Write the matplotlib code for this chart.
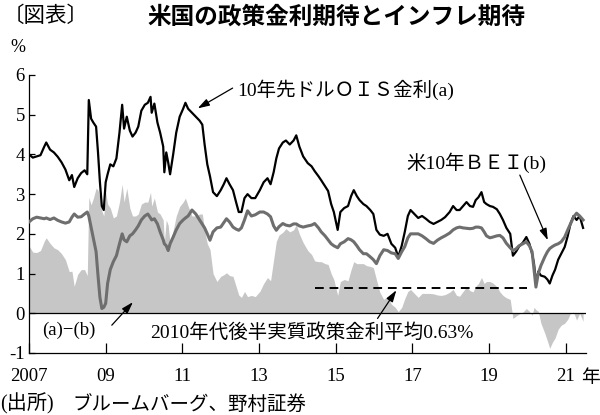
import numpy as np
import matplotlib
matplotlib.use("Agg")
import matplotlib.pyplot as plt

plt.rcParams['axes.unicode_minus'] = False

# dates (fractional year)
dates = [2007.00, 2007.10, 2007.20, 2007.30, 2007.40, 2007.45, 2007.55, 2007.65, 2007.75, 2007.85,
         2007.95, 2008.05, 2008.12, 2008.18, 2008.27, 2008.36, 2008.45, 2008.52, 2008.56, 2008.62,
         2008.68, 2008.75, 2008.80, 2008.85, 2008.90, 2008.95, 2009.00, 2009.05, 2009.12, 2009.20,
         2009.28, 2009.36, 2009.43, 2009.48, 2009.55, 2009.63, 2009.70, 2009.78, 2009.85, 2009.93,
         2010.02, 2010.10, 2010.17, 2010.20, 2010.27, 2010.35, 2010.42, 2010.50, 2010.53, 2010.58,
         2010.63, 2010.68, 2010.76, 2010.84, 2010.93, 2011.02, 2011.08, 2011.15, 2011.25, 2011.35,
         2011.45, 2011.52, 2011.58, 2011.65, 2011.72, 2011.80, 2011.90, 2012.00, 2012.08, 2012.15,
         2012.23, 2012.32, 2012.40, 2012.47, 2012.54, 2012.62, 2012.70, 2012.80, 2012.90, 2013.02,
         2013.12, 2013.22, 2013.30, 2013.38, 2013.45, 2013.52, 2013.62, 2013.70, 2013.80, 2013.90,
         2013.97, 2014.05, 2014.15, 2014.27, 2014.37, 2014.45, 2014.55, 2014.62, 2014.72, 2014.80,
         2014.88, 2014.95, 2015.05, 2015.12, 2015.22, 2015.32, 2015.40, 2015.47, 2015.55, 2015.62,
         2015.72, 2015.80, 2015.90, 2015.98, 2016.06, 2016.15, 2016.25, 2016.35, 2016.45, 2016.55,
         2016.63, 2016.72, 2016.80, 2016.88, 2016.95, 2017.05, 2017.15, 2017.25, 2017.35, 2017.45,
         2017.55, 2017.65, 2017.75, 2017.85, 2017.97, 2018.06, 2018.15, 2018.23, 2018.32, 2018.41,
         2018.50, 2018.58, 2018.65, 2018.72, 2018.80, 2018.87, 2018.93, 2019.02, 2019.10, 2019.20,
         2019.28, 2019.36, 2019.45, 2019.55, 2019.62, 2019.70, 2019.78, 2019.88, 2019.97, 2020.05,
         2020.12, 2020.17, 2020.22, 2020.28, 2020.35, 2020.45, 2020.52, 2020.58, 2020.65, 2020.72,
         2020.80, 2020.88, 2020.97, 2021.05, 2021.12, 2021.20, 2021.28, 2021.36, 2021.45]

# (a) 10年先ドルOIS金利
ois = [4.00, 3.92, 3.95, 3.98, 4.20, 4.30, 4.12, 4.05, 3.94, 3.80,
       3.62, 3.35, 3.48, 3.18, 3.40, 3.53, 3.60, 3.50, 5.37, 4.90,
       4.80, 4.70, 4.05, 3.30, 2.70, 2.60, 3.30, 3.50, 3.75, 3.70,
       3.90, 4.55, 5.25, 4.65, 4.95, 4.60, 4.45, 4.55, 4.70, 5.10,
       5.25, 5.30, 5.45, 5.05, 5.28, 4.80, 4.55, 4.20, 3.55, 4.05,
       3.80, 3.50, 4.00, 4.55, 4.95, 5.15, 5.30, 5.15, 5.05, 4.95,
       4.85, 4.75, 4.25, 3.75, 3.45, 3.05, 2.95, 3.10, 3.25, 3.40,
       3.25, 3.10, 2.80, 2.55, 2.55, 2.90, 3.00, 2.90, 2.90, 3.10,
       3.30, 3.40, 3.25, 3.55, 3.90, 4.15, 4.30, 4.35, 4.25, 4.35,
       4.48, 4.20, 3.95, 3.78, 3.70, 3.58, 3.45, 3.35, 3.20, 3.08,
       2.75, 2.55, 2.10, 2.55, 2.65, 2.70, 2.95, 3.10, 2.95, 2.85,
       2.75, 2.70, 2.60, 2.50, 2.10, 1.98, 1.95, 2.00, 1.75, 1.65,
       1.42, 1.70, 2.05, 2.45, 2.60, 2.50, 2.40, 2.45, 2.38, 2.30,
       2.25, 2.30, 2.35, 2.42, 2.55, 2.70, 2.60, 2.60, 2.70, 2.80,
       2.70, 2.68, 2.85, 2.92, 3.05, 2.80, 2.75, 2.70, 2.68, 2.62,
       2.50, 2.35, 2.15, 2.00, 1.45, 1.55, 1.68, 1.78, 1.92, 1.75,
       1.50, 1.25, 0.75, 1.05, 0.95, 0.92, 0.85, 0.75, 0.95, 1.10,
       1.35, 1.50, 1.67, 1.95, 2.25, 2.45, 2.35, 2.45, 2.15]

# (b) 米10年BEI
bei = [2.30, 2.38, 2.42, 2.40, 2.38, 2.40, 2.36, 2.40, 2.34, 2.30,
       2.27, 2.30, 2.42, 2.50, 2.42, 2.43, 2.50, 2.55, 2.45, 2.17,
       1.90, 1.55, 0.95, 0.40, 0.12, 0.15, 0.25, 0.75, 1.10, 1.30,
       1.45, 1.75, 2.00, 1.85, 1.80, 1.95, 2.00, 2.10, 2.20, 2.35,
       2.45, 2.50, 2.40, 2.35, 2.38, 2.25, 2.05, 1.85, 1.75, 1.70,
       1.58, 1.75, 1.92, 2.10, 2.26, 2.35, 2.40, 2.45, 2.60, 2.50,
       2.35, 2.25, 2.15, 2.00, 1.84, 2.05, 2.15, 2.17, 2.28, 2.38,
       2.30, 2.17, 2.12, 2.09, 2.15, 2.35, 2.58, 2.45, 2.48, 2.55,
       2.55, 2.50, 2.43, 2.20, 2.09, 2.18, 2.26, 2.22, 2.20, 2.25,
       2.25, 2.20, 2.17, 2.20, 2.22, 2.26, 2.15, 2.05, 1.95, 1.85,
       1.75, 1.70, 1.65, 1.75, 1.80, 1.88, 1.85, 1.80, 1.70, 1.60,
       1.50, 1.50, 1.42, 1.35, 1.25, 1.45, 1.60, 1.58, 1.52, 1.50,
       1.38, 1.55, 1.68, 1.90, 2.00, 2.00, 2.00, 1.95, 1.88, 1.80,
       1.76, 1.84, 1.90, 1.95, 2.02, 2.10, 2.15, 2.17, 2.15, 2.14,
       2.13, 2.14, 2.17, 2.17, 2.15, 2.05, 1.95, 1.90, 1.92, 1.95,
       1.96, 1.90, 1.76, 1.65, 1.58, 1.62, 1.70, 1.75, 1.80, 1.70,
       1.55, 1.10, 0.66, 1.00, 1.20, 1.42, 1.55, 1.63, 1.68, 1.72,
       1.75, 1.80, 1.92, 2.10, 2.25, 2.42, 2.52, 2.45, 2.35]

avg_real_rate = 0.63
avg_period = [2014.45, 2019.98]

year_ticks = [2007, 2009, 2011, 2013, 2015, 2017, 2019, 2021]
year_labels = ['2007', '09', '11', '13', '15', '17', '19', '21']
y_ticks = [-1, 0, 1, 2, 3, 4, 5, 6]

x = np.array(dates)
a = np.array(ois)
b = np.array(bei)
diff = a - b

serif = ['Liberation Serif', 'Noto Sans CJK JP']
jp = ['Noto Sans CJK JP', 'DejaVu Sans']

fig = plt.figure(figsize=(6, 4.15), dpi=100)
ax = fig.add_axes([0.0483, 0.1494, 0.928, 0.6699])

ax.fill_between(x, 0, diff, color='#c6c6c6', linewidth=0, zorder=1)
ax.axhline(0, color='black', lw=0.9, zorder=2)
ax.plot(x, a, color='black', lw=1.6, zorder=3)
ax.plot(x, b, color='#6e6e6e', lw=2.2, zorder=4)
ax.plot(avg_period, [avg_real_rate, avg_real_rate], color='black', lw=1.4,
        linestyle=(0, (4.5, 3)), zorder=5)

ax.set_xlim(2007.0, 2021.52)
ax.set_ylim(-1, 6)
ax.set_xticks(year_ticks)
ax.set_xticklabels(year_labels)
ax.set_yticks(y_ticks)
ax.set_yticklabels([str(v) for v in y_ticks])
for s in ['top', 'right']:
    ax.spines[s].set_visible(False)
for s in ['left', 'bottom']:
    ax.spines[s].set_linewidth(0.9)
ax.tick_params(axis='x', direction='in', length=7, width=0.9, pad=11)
ax.tick_params(axis='y', direction='in', length=4.5, width=0.9, pad=3)
for lab in ax.get_xticklabels() + ax.get_yticklabels():
    lab.set_family(serif)
    lab.set_fontsize(13.5)

arrow = dict(arrowstyle='-|>,head_length=0.7,head_width=0.22', color='black', lw=0.9,
             shrinkA=0, shrinkB=0)

# annotations
ax.text(2012.42, 5.62, '10年先ドルＯＩＳ金利(a)', family=serif, fontsize=14,
        ha='left', va='center')
ax.annotate('', xy=(2011.4, 5.16), xytext=(2012.31, 5.67), arrowprops=arrow)

ax.text(2016.85, 3.78, '米10年ＢＥＩ(b)', family=serif, fontsize=14,
        ha='left', va='center')
ax.annotate('', xy=(2020.53, 1.84), xytext=(2019.8, 3.48), arrowprops=arrow)

ax.text(2007.33, -0.43, '(a)−(b)', family=serif, fontsize=13.5,
        ha='left', va='center')
ax.annotate('', xy=(2009.71, 0.28), xytext=(2009.16, -0.3), arrowprops=arrow)

ax.text(2010.15, -0.5, '2010年代後半実質政策金利平均0.63%', family=serif, fontsize=14,
        ha='left', va='center')
ax.annotate('', xy=(2016.58, 0.58), xytext=(2016.09, -0.13), arrowprops=arrow)

# titles and notes
fig.text(0.005, 1 - 16 / 415, '〔図表〕', family=jp, fontsize=15.5, ha='left', va='center')
fig.text(147 / 600, 1 - 17 / 415, '米国の政策金利期待とインフレ期待', family=jp,
         fontsize=17, fontweight='bold', ha='left', va='center')
fig.text(18 / 600, 1 - 47 / 415, '%', family=serif, fontsize=13, ha='center', va='center')
fig.text(581 / 600, 1 - 377 / 415, '年', family=jp, fontsize=13.5, ha='left', va='center')
fig.text(0.0, 1 - 404 / 415, '(出所)', family=serif, fontsize=14.5, ha='left', va='center')
fig.text(72 / 600, 1 - 404 / 415, 'ブルームバーグ、野村証券', family=jp, fontsize=14,
         ha='left', va='center')

fig.savefig('out.png', dpi=100)
